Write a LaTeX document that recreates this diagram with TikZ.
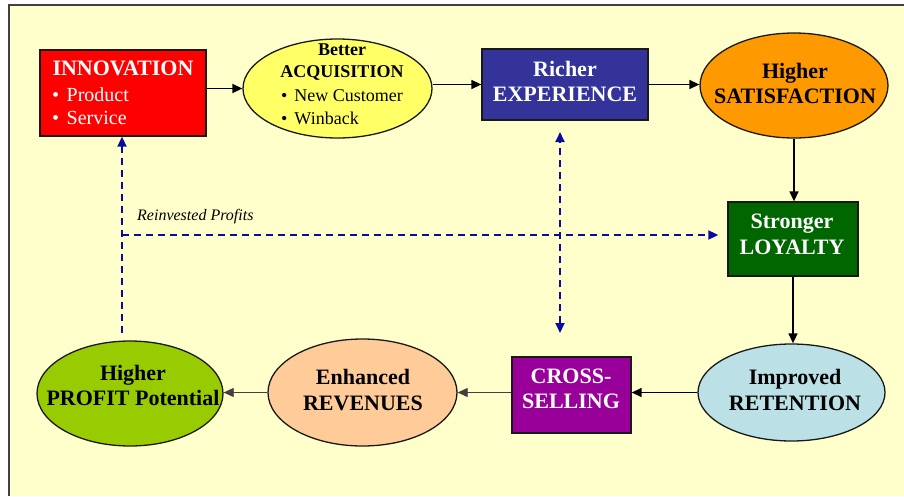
\documentclass[tikz,border=0pt]{standalone}
\usepackage{fontspec}
\setmainfont{Liberation Serif}
\usetikzlibrary{shapes.geometric,arrows.meta,calc}
\definecolor{bgyel}{HTML}{FFFFCC}
\definecolor{cred}{HTML}{FF0000}
\definecolor{cyel}{HTML}{FFFF66}
\definecolor{cnavy}{HTML}{333399}
\definecolor{corange}{HTML}{FF9900}
\definecolor{cgreen}{HTML}{006600}
\definecolor{cblue}{HTML}{BBE0E5}
\definecolor{cpurple}{HTML}{990099}
\definecolor{cpeach}{HTML}{FFCC99}
\definecolor{clime}{HTML}{99CC00}
\definecolor{dblue}{HTML}{0A0AA0}
\definecolor{frame}{HTML}{404040}
\tikzset{
  shp/.style={draw=black!90, line width=1.3pt, inner sep=0pt},
  boxshape/.style={shp, rectangle},
  ellshape/.style={shp, ellipse},
  conn/.style={draw=black, line width=1.4pt, -{Triangle[length=10pt,width=9pt]}},
  thinconn/.style={draw=black!75, line width=0.8pt, -{Triangle[length=10pt,width=9pt]}},
  dsh/.style={draw=dblue, line width=1.8pt, dash pattern=on 7pt off 5pt},
  dtip/.style={-{Triangle[length=10pt,width=9pt]}},
  big/.style={font=\fontsize{22}{26}\selectfont\bfseries, anchor=base, inner sep=0pt},
  mid/.style={font=\fontsize{18}{22}\selectfont\bfseries, anchor=base, inner sep=0pt},
  bulA/.style={font=\fontsize{20}{24}\selectfont, anchor=base west, inner sep=0pt},
  bulB/.style={font=\fontsize{18}{22}\selectfont, anchor=base west, inner sep=0pt},
}
\begin{document}
\begin{tikzpicture}[x=1pt,y=-1pt]
\useasboundingbox (0,0) rectangle (904,496);
\fill[white] (0,0) rectangle (904,496);
\fill[bgyel] (9,5) rectangle (904,496);
\draw[frame, line width=1.5pt] (9,496) -- (9,5) -- (904,5);

% shapes
\node[boxshape, fill=cred, minimum width=166pt, minimum height=86pt] (innov) at (123,93) {};
\node[ellshape, fill=cyel, minimum width=189pt, minimum height=99pt] (acq) at (337.5,88.5) {};
\node[boxshape, fill=cnavy, minimum width=166pt, minimum height=71pt] (exp) at (565,84.5) {};
\node[ellshape, fill=corange, minimum width=188pt, minimum height=105pt] (sat) at (794,85.5) {};
\node[boxshape, fill=cgreen, minimum width=130pt, minimum height=74pt] (loy) at (793,239) {};
\node[ellshape, fill=cblue, minimum width=187pt, minimum height=97pt] (ret) at (791.5,392.5) {};
\node[boxshape, fill=cpurple, minimum width=119pt, minimum height=76pt] (cross) at (571.5,395) {};
\node[ellshape, fill=cpeach, minimum width=189pt, minimum height=107pt] (rev) at (362.5,392.5) {};
\node[ellshape, fill=clime, minimum width=186pt, minimum height=105pt] (prof) at (130,393.5) {};

% texts
\node[big, white] (t1) at (123,75) {INNOVATION};
\node[bulA, white] (t2) at (52,101) {•\hspace{7.5pt}Product};
\node[bulA, white] (t3) at (52,124) {•\hspace{7.5pt}Service};

\node[mid] (t4) at (342,55) {Better};
\node[mid] (t5) at (342,77) {ACQUISITION};
\node[bulB] (t6) at (281,101) {•\hspace{7pt}New Customer};
\node[bulB] (t7) at (281,124) {•\hspace{7pt}Winback};

\node[big, white] (t8) at (565,76) {Richer};
\node[big, white] (t9) at (565,101) {EXPERIENCE};

\node[big] (t10) at (795,78) {Higher};
\node[big] (t11) at (795,103) {SATISFACTION};

\node[big, white] (t12) at (792,228) {Stronger};
\node[big, white] (t13) at (792,254) {LOYALTY};

\node[big] (t14) at (795,384) {Improved};
\node[big] (t15) at (795,410) {RETENTION};

\node[big, white] (t16) at (571,383) {CROSS-};
\node[big, white] (t17) at (571,408) {SELLING};

\node[big] (t18) at (363,384) {Enhanced};
\node[big] (t19) at (363,410) {REVENUES};

\node[big] (t20) at (133,380) {Higher};
\node[big] (t21) at (133,405) {PROFIT Potential};

\node[font=\fontsize{16}{19}\selectfont\itshape, anchor=base west, inner sep=0pt] (rp) at (137,220) {Reinvested Profits};

% solid connectors
\draw[conn] (innov.east |- acq.center) -- (acq.west);
\draw[conn] (acq.east |- exp.west) -- (exp.west);
\draw[conn] (exp.east) -- (exp.east -| sat.west);
\draw[conn] (sat.south) -- (sat.south |- loy.north);
\draw[conn] (loy.south) -- (loy.south |- ret.north);
\draw[conn] (ret.west) -- (ret.west -| cross.east);
\draw[thinconn] (cross.west |- rev.east) -- (rev.east);
\draw[thinconn] (rev.west) -- (rev.west -| prof.east);

% dashed connectors
\coordinate (d1) at (122,333);
\coordinate (d2) at (122,235);
\coordinate (d3t) at (560,132);
\coordinate (d3b) at (560,333);
\draw[dsh, dtip] (d1) -- (d1 |- innov.south);
\draw[dsh, dtip] (d2) -- ($(d2 -| loy.west)+(-9,0)$);
\draw[dsh, {Triangle[length=10pt,width=9pt]}-{Triangle[length=10pt,width=9pt]}] (d3b) -- (d3t);
\end{tikzpicture}
\end{document}
